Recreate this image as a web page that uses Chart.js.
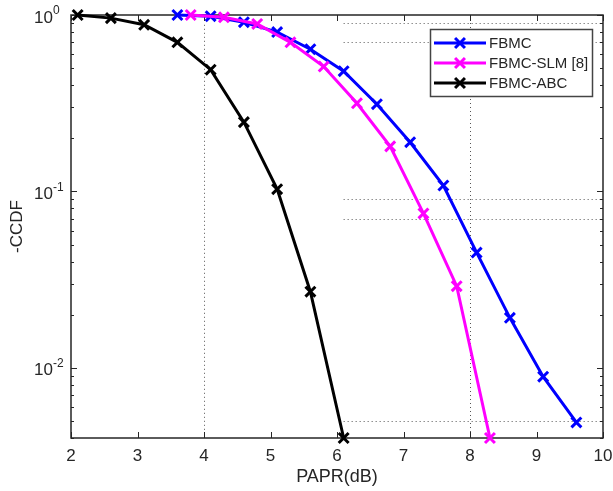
<!DOCTYPE html>
<html>
<head>
<meta charset="utf-8">
<script src="https://cdn.jsdelivr.net/npm/chart.js@4.4.1/dist/chart.umd.min.js"></script>
<style>
  html, body { margin: 0; padding: 0; background: #fff; }
</style>
</head>
<body>
<canvas id="ccdfChart" width="613" height="491"></canvas>
<script>
// ================= DATA =================
const seriesNames = ["FBMC", "FBMC-SLM [8]", "FBMC-ABC"];
const seriesColors = ["#0000ff", "#ff00ff", "#000000"];

const fbmcX = [3.6, 4.1, 4.6, 5.1, 5.6, 6.1, 6.6, 7.1, 7.6, 8.1, 8.6, 9.1, 9.6];
const fbmcY = [1.0, 0.985, 0.91, 0.80, 0.64, 0.48, 0.312, 0.19, 0.108, 0.045, 0.0192, 0.0089, 0.0049];

const slmX = [3.8, 4.3, 4.8, 5.3, 5.8, 6.3, 6.8, 7.3, 7.8, 8.3];
const slmY = [1.0, 0.97, 0.89, 0.70, 0.51, 0.316, 0.18, 0.075, 0.029, 0.004];

const abcX = [2.1, 2.6, 3.1, 3.6, 4.1, 4.6, 5.1, 5.6, 6.1];
const abcY = [1.0, 0.96, 0.88, 0.70, 0.49, 0.247, 0.103, 0.027, 0.004];

const xTicks = [2, 3, 4, 5, 6, 7, 8, 9, 10];
const yDecades = [1, 0.1, 0.01];
const yDecadeExp = ["0", "-1", "-2"];

// dotted grid pieces, as they show in the figure
const gridXVals = [4, 8];
const gridXTop = [0.88, 1];
const gridYVals = [0.9, 0.7, 0.09, 0.07, 0.005];
const gridYFrom = 6.1;

// ================= STYLE =================
const AXIS = "#262626";
const FONT = "'Liberation Sans', Arial, sans-serif";

function pts(xs, ys) {
  return xs.map((v, i) => ({ x: v, y: ys[i] }));
}

function makeSet(i, xs, ys) {
  return {
    label: seriesNames[i],
    data: pts(xs, ys),
    borderColor: seriesColors[i],
    backgroundColor: seriesColors[i],
    borderWidth: 3,
    pointStyle: "crossRot",
    pointRadius: 7,
    pointBorderWidth: 3,
    pointHoverRadius: 7,
    tension: 0,
    clip: false,
    order: 3 - i
  };
}

// ================= AXES / GRID / LEGEND (MATLAB look) =================
const matlabAxes = {
  id: "matlabAxes",
  beforeDatasetsDraw(chart) {
    const { ctx, chartArea: a, scales: { x, y } } = chart;
    ctx.save();

    // dotted grid
    ctx.strokeStyle = "#555";
    ctx.lineWidth = 1;
    ctx.setLineDash([1, 3]);
    gridXVals.forEach((v, i) => {
      const px = Math.round(x.getPixelForValue(v)) + 0.5;
      ctx.beginPath();
      ctx.moveTo(px, y.getPixelForValue(gridXTop[i]));
      ctx.lineTo(px, a.bottom);
      ctx.stroke();
    });
    gridYVals.forEach(v => {
      const py = Math.round(y.getPixelForValue(v)) + 0.5;
      ctx.beginPath();
      ctx.moveTo(x.getPixelForValue(gridYFrom), py);
      ctx.lineTo(a.right, py);
      ctx.stroke();
    });
    ctx.setLineDash([]);

    // box
    ctx.strokeStyle = AXIS;
    ctx.lineWidth = 1.5;
    ctx.strokeRect(a.left, a.top, a.right - a.left, a.bottom - a.top);

    // inward ticks
    ctx.lineWidth = 1;
    ctx.beginPath();
    xTicks.forEach(v => {
      const px = Math.round(x.getPixelForValue(v)) + 0.5;
      ctx.moveTo(px, a.bottom); ctx.lineTo(px, a.bottom - 6);
      ctx.moveTo(px, a.top); ctx.lineTo(px, a.top + 6);
    });
    for (let e = -3; e <= 0; e++) {
      for (let k = 1; k <= 9; k++) {
        const v = k * Math.pow(10, e);
        if (v < y.min * 0.999 || v > y.max * 1.001) continue;
        const py = Math.round(y.getPixelForValue(v)) + 0.5;
        const len = k === 1 ? 6 : 3;
        ctx.moveTo(a.left, py); ctx.lineTo(a.left + len, py);
        ctx.moveTo(a.right, py); ctx.lineTo(a.right - len, py);
      }
    }
    ctx.stroke();

    // y tick labels 10^n
    ctx.fillStyle = AXIS;
    ctx.textBaseline = "middle";
    yDecades.forEach((v, i) => {
      const py = y.getPixelForValue(v);
      ctx.font = "17px " + FONT;
      ctx.textAlign = "right";
      ctx.fillText("10", 53, py + 3);
      ctx.font = "12px " + FONT;
      ctx.textAlign = "left";
      ctx.fillText(yDecadeExp[i], 53, py - 4);
    });
    ctx.restore();
  },

  afterDatasetsDraw(chart) {
    const { ctx } = chart;
    const bx = 430.5, by = 29.5, bw = 162, bh = 67;
    ctx.save();
    ctx.fillStyle = "#fff";
    ctx.fillRect(bx, by, bw, bh);
    ctx.strokeStyle = "#444";
    ctx.lineWidth = 1.5;
    ctx.strokeRect(bx, by, bw, bh);

    chart.data.datasets.forEach((ds, i) => {
      const ly = 43 + i * 20;
      ctx.strokeStyle = ds.borderColor;
      ctx.lineWidth = 3;
      ctx.beginPath();
      ctx.moveTo(434, ly);
      ctx.lineTo(486, ly);
      ctx.stroke();
      Chart.helpers.drawPoint(ctx, { pointStyle: "crossRot", radius: 7, borderWidth: 3, rotation: 0 }, 460, ly);

      ctx.fillStyle = AXIS;
      ctx.font = "15px " + FONT;
      ctx.textAlign = "left";
      ctx.textBaseline = "middle";
      ctx.fillText(ds.label, 489, ly + 1);
    });
    ctx.restore();
  }
};

// ================= CHART =================
const ctx = document.getElementById("ccdfChart").getContext("2d");

const ccdfChart = new Chart(ctx, {
  type: "line",
  data: {
    datasets: [
      makeSet(0, fbmcX, fbmcY),
      makeSet(1, slmX, slmY),
      makeSet(2, abcX, abcY)
    ]
  },
  options: {
    responsive: false,
    animation: false,
    devicePixelRatio: 1,
    layout: { padding: { top: 15, right: 8, left: 0, bottom: 0 } },
    plugins: {
      legend: { display: false },
      tooltip: { enabled: false }
    },
    scales: {
      x: {
        type: "linear",
        min: 2,
        max: 10,
        grid: { display: false, drawTicks: false },
        border: { display: false },
        ticks: {
          stepSize: 1,
          padding: 8,
          color: AXIS,
          font: { family: FONT, size: 17 }
        },
        title: {
          display: true,
          text: "PAPR(dB)",
          color: AXIS,
          font: { family: FONT, size: 18 },
          padding: { top: 0, bottom: 3 }
        },
        afterFit(s) {
          s.height = 53;
          s.paddingLeft = 0;
          s.paddingRight = 0;
        }
      },
      y: {
        type: "logarithmic",
        min: 0.004,
        max: 1,
        grid: { display: false, drawTicks: false },
        border: { display: false },
        ticks: { display: false },
        title: {
          display: true,
          text: "-CCDF",
          color: AXIS,
          font: { family: FONT, size: 17 },
          padding: { top: 7, bottom: 0 }
        },
        afterFit(s) {
          s.width = 71;
        }
      }
    }
  },
  plugins: [matlabAxes]
});
</script>
</body>
</html>
